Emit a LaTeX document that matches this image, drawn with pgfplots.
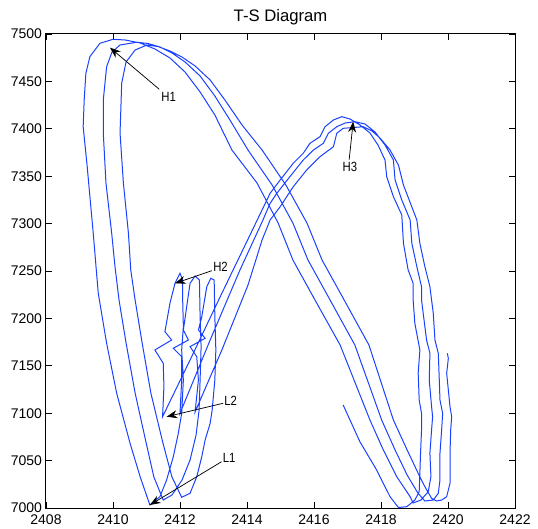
\documentclass[border=0pt]{standalone}
\usepackage{fontspec}
\setmainfont{Liberation Sans}
\usepackage{graphicx}
\usepackage{pgfplots}
\pgfplotsset{compat=1.18}
\usetikzlibrary{arrows.meta}
\definecolor{mblue}{RGB}{25,65,255}
\begin{document}
\begin{tikzpicture}
\begin{axis}[
 scale only axis, width=351.75pt, height=355.5pt,
 xmin=2408, xmax=2422, ymin=7000, ymax=7500,
 xtick={2408,2410,...,2422}, ytick={7000,7050,...,7500},
 tick align=inside, xtick pos=both, ytick pos=both,
 major tick length=4.5pt,
 tick style={black, line width=0.5pt},
 axis line style={line width=0.75pt},
 /pgf/number format/assume math mode=true,
 /pgf/number format/1000 sep={},
 ticklabel style={font=\fontsize{10.5}{12}\selectfont},
 xticklabel style={yshift=-1.5pt},
 yticklabel style={xshift=0.5pt},
 title={T-S Diagram}, title style={font=\fontsize{12.5}{14}\selectfont, yshift=-3pt},
]
\addplot[mblue, line width=0.75pt] table {
x y
2416.87 7108.7
2417.37 7069.9
2417.87 7040.1
2418.27 7011.9
2418.52 7000.5
2418.77 7001.4
2419.01 7008.4
2419.14 7017.2
2419.16 7036.6
2419.18 7057.7
2419.21 7082.3
2419.21 7099.9
2419.14 7113.9
2419.11 7142.1
2419.16 7166.7
2419.01 7194.8
2418.96 7219.4
2418.96 7237.0
2418.81 7251.1
2418.67 7279.2
2418.62 7309.1
2418.37 7328.4
2418.17 7349.5
2418.12 7367.1
2417.91 7382.9
2417.67 7395.6
2417.37 7404.1
2417.07 7410.4
2416.83 7412.8
2416.58 7409.3
2416.33 7402.2
2416.18 7391.7
2415.88 7384.7
2415.68 7374.2
2415.38 7363.6
2414.99 7346.0
2414.69 7332.0
2414.09 7288.0
2413.19 7222.1
2412.30 7156.1
2411.48 7096.3
2411.52 7128.0
2411.50 7152.6
2411.25 7166.7
2411.75 7177.2
2411.55 7186.0
2411.70 7215.9
2411.85 7237.0
2412.00 7247.6
2412.08 7240.5
2412.08 7219.4
2412.10 7191.3
2412.05 7166.7
2412.10 7135.0
2412.08 7121.0
2412.05 7099.9
2411.95 7078.8
2411.80 7054.1
2411.60 7029.5
2411.40 7011.9
2411.10 7003.2
2410.81 7033.0
2410.51 7068.2
2410.11 7121.0
2409.81 7173.7
2409.56 7226.5
2409.41 7289.8
2409.23 7360.0
2409.11 7402.2
2409.14 7430.4
2409.19 7458.5
2409.31 7476.1
2409.61 7490.2
2410.00 7494.4
2410.36 7493.7
2410.81 7490.5
2411.25 7484.2
2411.70 7474.7
2412.15 7459.9
2412.60 7438.8
2413.04 7414.6
2413.55 7377.6
2414.30 7342.8
2414.93 7300.6
2415.37 7261.6
2416.03 7219.4
2416.78 7171.9
2417.67 7092.8
2418.07 7061.2
2418.47 7033.0
2418.87 7011.9
2418.96 7005.3
2419.19 7008.4
2419.41 7017.2
2419.49 7033.0
2419.46 7057.7
2419.51 7082.3
2419.54 7096.3
2419.51 7106.9
2419.44 7135.0
2419.46 7163.2
2419.36 7177.2
2419.26 7205.4
2419.21 7219.4
2419.21 7233.4
2419.07 7254.5
2418.92 7279.2
2418.87 7303.8
2418.62 7324.9
2418.42 7346.0
2418.37 7367.1
2418.12 7382.9
2417.82 7396.7
2417.52 7405.1
2417.22 7407.5
2416.93 7406.1
2416.68 7402.2
2416.43 7395.3
2416.28 7384.7
2415.98 7377.6
2415.68 7367.1
2415.28 7349.5
2414.89 7332.0
2414.69 7321.4
2414.45 7301.7
2413.79 7251.1
2412.90 7177.2
2412.00 7099.9
2412.05 7135.0
2412.05 7159.6
2411.80 7168.5
2412.25 7177.2
2412.10 7187.8
2412.20 7212.3
2412.30 7237.0
2412.45 7244.7
2412.58 7240.5
2412.60 7201.8
2412.63 7170.2
2412.60 7135.0
2412.57 7103.4
2412.48 7077.0
2412.30 7050.6
2412.06 7029.5
2411.76 7013.7
2411.50 7008.4
2411.22 7032.7
2410.99 7068.6
2410.66 7121.3
2410.39 7174.1
2410.18 7219.4
2410.06 7254.5
2409.96 7290.1
2409.79 7342.8
2409.71 7395.6
2409.71 7430.4
2409.81 7465.5
2409.97 7481.0
2410.21 7488.4
2410.71 7491.3
2411.04 7490.0
2411.40 7486.3
2411.76 7480.0
2412.15 7470.5
2412.60 7455.7
2413.04 7434.6
2413.49 7409.3
2414.03 7377.6
2414.75 7340.7
2415.37 7300.6
2415.82 7261.6
2416.48 7219.4
2417.22 7171.9
2418.02 7092.8
2418.42 7061.2
2418.78 7034.8
2419.10 7015.8
2419.31 7007.4
2419.56 7008.4
2419.71 7015.5
2419.76 7029.5
2419.76 7057.7
2419.81 7082.3
2419.84 7099.9
2419.76 7113.9
2419.74 7135.0
2419.71 7163.2
2419.61 7177.2
2419.56 7205.4
2419.51 7219.4
2419.46 7233.4
2419.31 7254.5
2419.16 7279.2
2419.07 7303.8
2418.67 7340.7
2418.52 7361.8
2418.27 7377.6
2417.97 7390.3
2417.73 7397.7
2417.47 7402.2
2416.87 7400.5
2416.68 7395.3
2416.58 7381.1
2416.18 7370.6
2415.78 7356.5
2415.38 7338.9
2414.99 7317.8
2414.69 7303.8
2414.45 7282.7
2414.03 7235.2
2413.25 7166.7
2412.45 7101.3
2412.55 7135.0
2412.50 7159.6
2412.30 7170.2
2412.75 7179.0
2412.55 7187.8
2412.65 7201.8
2412.80 7233.4
2412.92 7242.3
2413.02 7240.5
2413.04 7201.8
2413.07 7166.7
2413.04 7135.0
2412.96 7103.4
2412.90 7089.3
2412.75 7071.7
2412.65 7054.1
2412.50 7033.0
2412.30 7015.5
2412.05 7011.3
2411.76 7032.7
2411.49 7068.6
2411.13 7121.3
2410.87 7174.1
2410.66 7219.4
2410.53 7251.1
2410.46 7290.1
2410.31 7342.8
2410.21 7395.6
2410.26 7448.3
2410.39 7470.5
2410.66 7483.1
2411.01 7488.4
2411.34 7486.8
2411.70 7482.1
2412.06 7475.7
2412.45 7466.3
2412.90 7451.5
2413.34 7430.4
2413.85 7404.1
2414.45 7377.6
2415.16 7340.7
2415.79 7300.6
2416.24 7261.6
2416.90 7219.4
2417.64 7171.9
2418.37 7092.8
2418.78 7061.2
2419.11 7036.6
2419.31 7022.5
2419.51 7010.2
2419.66 7007.4
2419.81 7008.4
2419.96 7011.9
2420.06 7026.1
2420.06 7057.7
2420.08 7082.3
2420.11 7096.3
2420.06 7106.9
2420.01 7124.5
2419.96 7142.1
2420.01 7157.9
2419.98 7163.2
};
\tikzset{ann/.style={black, line width=0.55pt, -{Stealth[length=8pt,width=6pt]}},
         lab/.style={font=\fontsize{10}{11}\selectfont, inner sep=0pt}}
\draw[ann] (axis cs:2411.38,7441.7) -- (axis cs:2409.91,7485.6);
\node[lab] at (axis cs:2411.66,7433.6) {\scalebox{0.85}[1]{H1}};
\draw[ann] (axis cs:2412.95,7250.3) -- (axis cs:2411.85,7237.0);
\node[lab] at (axis cs:2413.21,7254.6) {\scalebox{0.85}[1]{H2}};
\draw[ann] (axis cs:2417.05,7367.5) -- (axis cs:2417.17,7407.5);
\node[lab] at (axis cs:2417.07,7359.5) {\scalebox{0.85}[1]{H3}};
\draw[ann] (axis cs:2413.29,7110.5) -- (axis cs:2411.60,7096.3);
\node[lab] at (axis cs:2413.51,7113.0) {\scalebox{0.85}[1]{L2}};
\draw[ann] (axis cs:2413.24,7048.8) -- (axis cs:2411.10,7003.2);
\node[lab] at (axis cs:2413.47,7053.0) {\scalebox{0.85}[1]{L1}};
\end{axis}
\pgfresetboundingbox
\path (current axis.south west) -- ++(-34.5pt,-15pt);
\path (current axis.north east) -- ++(17.25pt,25.5pt);
\end{tikzpicture}
\end{document}
